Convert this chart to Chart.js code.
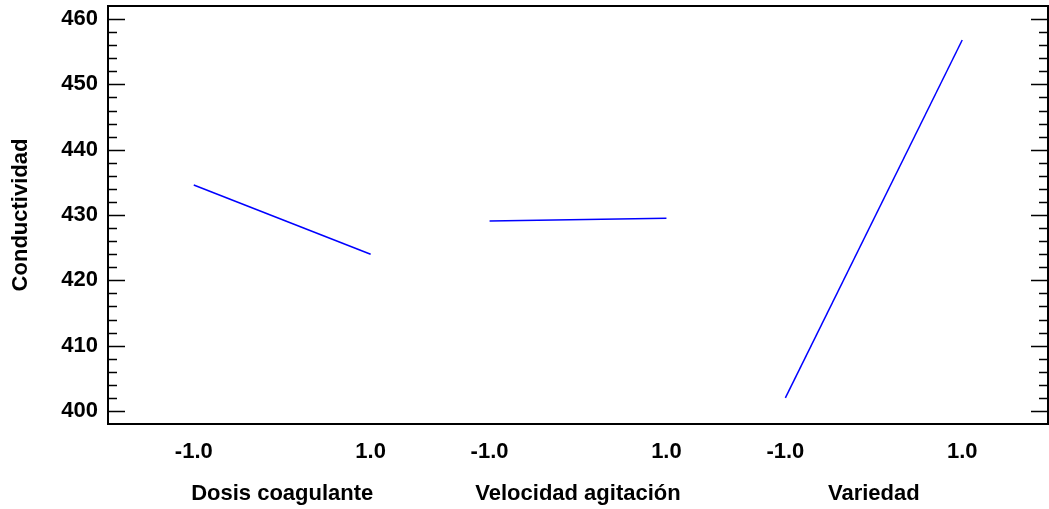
<!DOCTYPE html>
<html>
<head>
<meta charset="utf-8">
<script src="https://cdn.jsdelivr.net/npm/chart.js@4.4.1/dist/chart.umd.min.js"></script>
<style>
  html, body { margin: 0; padding: 0; background: #fff; }
  #wrap { width: 1049px; height: 509px; position: relative; }
</style>
</head>
<body>
<div id="wrap"><canvas id="effectsChart"></canvas></div>
<script>
// Main effects plot for Conductividad
const factors = ['Dosis coagulante', 'Velocidad agitación', 'Variedad'];
const levels = [-1, 1];
const levelLabels = ['-1.0', '1.0'];
const effectDosis = [434.6, 424.0];
const effectVelocidad = [429.1, 429.5];
const effectVariedad = [402.0, 456.8];
const yTicks = [400, 410, 420, 430, 440, 450, 460];
const yTitle = 'Conductividad';

// layout of the factor panels along one x axis
const panelStep = 3.345;
const sideMargin = 1.97;
const centers = factors.map((f, i) => i * panelStep);

const series = [effectDosis, effectVelocidad, effectVariedad];

const xTicks = [];
const xLabels = [];
factors.forEach((name, i) => {
    xTicks.push(centers[i] + levels[0]); xLabels.push(levelLabels[0]);
    xTicks.push(centers[i]);             xLabels.push(['', name]);
    xTicks.push(centers[i] + levels[1]); xLabels.push(levelLabels[1]);
});

const datasets = series.map((vals, i) => ({
    data: levels.map((lv, j) => ({ x: centers[i] + lv, y: vals[j] })),
    borderColor: '#0000ff',
    borderWidth: 1.5,
    pointRadius: 0,
    tension: 0,
    fill: false
}));

const FONT = { family: "'Liberation Sans', Arial, sans-serif", size: 22, weight: 'bold' };

// frame with inward ticks on left and right sides
const framePlugin = {
    id: 'frame',
    afterDraw(chart) {
        const { ctx, chartArea: a } = chart;
        const y = chart.scales.y;
        ctx.save();
        ctx.strokeStyle = '#000';
        ctx.lineWidth = 1.5;
        for (let v = 400; v <= 460; v += 2) {
            const py = Math.round(y.getPixelForValue(v)) + 0.5;
            const len = v % 10 === 0 ? 17 : 9;
            ctx.beginPath();
            ctx.moveTo(a.left, py); ctx.lineTo(a.left + len, py);
            ctx.moveTo(a.right, py); ctx.lineTo(a.right - len, py);
            ctx.stroke();
        }
        ctx.lineWidth = 2;
        ctx.strokeRect(a.left, a.top, a.right - a.left, a.bottom - a.top);
        ctx.restore();
    }
};

new Chart(document.getElementById('effectsChart'), {
    type: 'line',
    data: { datasets: datasets },
    options: {
        responsive: true,
        maintainAspectRatio: false,
        animation: false,
        layout: { padding: { top: 6, right: 1, left: 0, bottom: 0 } },
        plugins: { legend: { display: false }, tooltip: { enabled: false } },
        scales: {
            x: {
                type: 'linear',
                min: centers[0] - sideMargin,
                max: centers[centers.length - 1] + sideMargin,
                grid: { display: false },
                border: { display: false },
                afterBuildTicks: (scale) => { scale.ticks = xTicks.map(v => ({ value: v })); },
                afterFit: (scale) => { scale.height = 85; scale.paddingLeft = 0; scale.paddingRight = 0; },
                ticks: {
                    autoSkip: false,
                    maxRotation: 0,
                    padding: -1,
                    color: '#000',
                    font: Object.assign({}, FONT, { lineHeight: 1.9 }),
                    callback: (value, index) => xLabels[index]
                }
            },
            y: {
                min: 398,
                max: 462,
                grid: { display: false, drawTicks: false },
                border: { display: false },
                afterBuildTicks: (scale) => { scale.ticks = yTicks.map(v => ({ value: v })); },
                afterFit: (scale) => { scale.width = 108; scale.paddingTop = 0; scale.paddingBottom = 0; },
                ticks: { padding: 10, color: '#000', font: FONT },
                title: {
                    display: true,
                    text: yTitle,
                    color: '#000',
                    font: FONT,
                    padding: { top: 8, bottom: 0 }
                }
            }
        }
    },
    plugins: [framePlugin]
});
</script>
</body>
</html>
